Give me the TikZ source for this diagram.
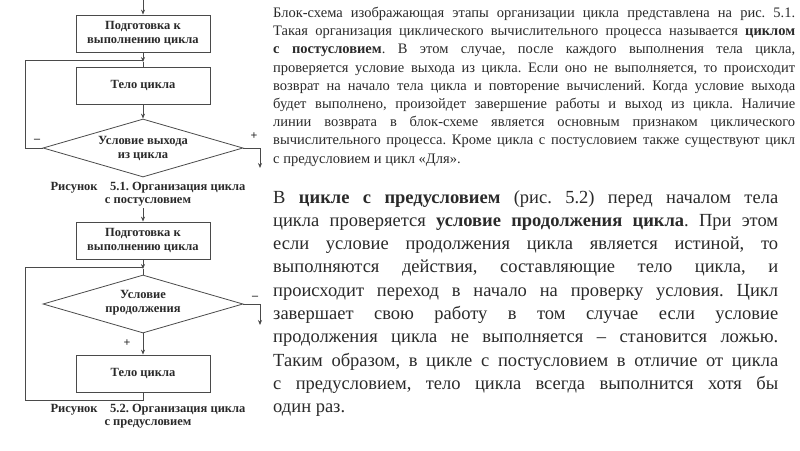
\documentclass[tikz,border=0pt]{standalone}
\usepackage{fontspec}
\setmainfont{Liberation Serif}
\usetikzlibrary{shapes.geometric,arrows.meta}
\definecolor{ln}{HTML}{4A4A4A}
\definecolor{tx}{HTML}{2A2A2A}
\frenchspacing
\begin{document}
\begin{tikzpicture}[x=1pt,y=-1pt,
  flow/.style={draw=ln,line width=0.8pt,-{Stealth[length=5pt,width=4pt]}},
  plain/.style={draw=ln,line width=0.8pt},
  blk/.style={draw=ln,line width=0.8pt,rectangle,minimum width=134pt,minimum height=37pt,inner sep=0pt,align=center,font=\fontsize{12.5}{13.5}\selectfont\bfseries,text=tx},
  dia/.style={draw=ln,line width=0.8pt,diamond,minimum width=200pt,minimum height=58pt,inner sep=0pt},
  dtext/.style={align=center,font=\fontsize{12.5}{14}\selectfont\bfseries,text=tx,inner sep=0pt},
  sgn/.style={font=\fontsize{12}{13}\selectfont\bfseries,text=tx,inner sep=0pt},
  figcap/.style={align=center,font=\fontsize{12.5}{12.5}\selectfont\bfseries,text=tx,inner sep=0pt},
  ptop/.style={anchor=north west,inner sep=0pt,text width=522pt,align=justify,font=\fontsize{14.5}{18.2}\selectfont\frenchspacing,text=tx},
  pbot/.style={anchor=north west,inner sep=0pt,text width=505pt,align=justify,font=\fontsize{18.5}{23.3}\selectfont\frenchspacing,text=tx}
]
\useasboundingbox[fill=white] (0,0) rectangle (800,450);

% ---- figure 5.1 ----
\coordinate (s1) at (143,0);
\node[blk] (b1) at (143,33.5) {Подготовка к\\выполнению цикла};
\coordinate (j1) at (143,62);
\coordinate (r1) at (143,60);
\node[blk] (b2) at (143,85.5) {Тело цикла};
\node[dia] (d1) at (143,148) {};
\node[dtext] (t1) at (143,148) {Условие выхода\\из цикла};
\coordinate (l1) at (25,148);
\coordinate (e1a) at (260,148);
\coordinate (e1) at (260,168);
\draw[flow] (s1) -- (b1.north);
\draw[flow] (b1.south) -- (j1);
\draw[plain] (j1) -- (b2.north);
\draw[flow] (b2.south) -- (d1.north);
\draw[plain] (d1.west) -- (l1) |- (r1);
\draw[flow] (d1.east) -- (e1a) -- (e1);
\node[sgn] (m1) at (37,141) {–};
\node[sgn] (p1) at (254,136) {+};
\node[figcap] (c1) at (148,194) {Рисунок\quad 5.1. Организация цикла\\с постусловием};

% ---- figure 5.2 ----
\coordinate (s2) at (143,208);
\node[blk] (b3) at (143,240.5) {Подготовка к\\выполнению цикла};
\coordinate (j2) at (143,269);
\coordinate (r2) at (143,267);
\node[dia] (d2) at (143,304) {};
\node[dtext] (t2) at (143,303) {Условие\\продолжения};
\node[blk] (b4) at (143,373.5) {Тело цикла};
\coordinate (e2a) at (260,304);
\coordinate (e2) at (260,325);
\coordinate (q1) at (143,400);
\coordinate (q2) at (25,400);
\draw[flow] (s2) -- (b3.north);
\draw[flow] (b3.south) -- (j2);
\draw[plain] (j2) -- (d2.north);
\draw[flow] (d2.south) -- (b4.north);
\draw[flow] (d2.east) -- (e2a) -- (e2);
\draw[plain] (b4.south) -- (q1) -- (q2) |- (r2);
\node[sgn] (m2) at (255,298) {–};
\node[sgn] (p2) at (127,343) {+};
\node[figcap] (c2) at (148,416) {Рисунок\quad 5.2. Организация цикла\\с предусловием};

% ---- text ----
\node[ptop] (pa) at (273,7) {Блок-схема изображающая этапы организации цикла представлена на рис. 5.1.\linebreak
Такая организация циклического вычислительного процесса называется \textbf{циклом}\linebreak
\textbf{с постусловием}. В этом случае, после каждого выполнения тела цикла,\linebreak
проверяется условие выхода из цикла. Если оно не выполняется, то происходит\linebreak
возврат на начало тела цикла и повторение вычислений. Когда условие выхода\linebreak
будет выполнено, произойдет завершение работы и выход из цикла. Наличие\linebreak
линии возврата в блок-схеме является основным признаком циклического\linebreak
вычислительного процесса. Кроме цикла с постусловием также существуют цикл\linebreak
с предусловием и цикл «Для».};

\node[pbot] (pb) at (273,190) {В \textbf{цикле с предусловием} (рис. 5.2) перед началом тела\linebreak
цикла проверяется \textbf{условие продолжения цикла}. При этом\linebreak
если условие продолжения цикла является истиной, то\linebreak
выполняются действия, составляющие тело цикла, и\linebreak
происходит переход в начало на проверку условия. Цикл\linebreak
завершает свою работу в том случае если условие\linebreak
продолжения цикла не выполняется – становится ложью.\linebreak
Таким образом, в цикле с постусловием в отличие от цикла\linebreak
с предусловием, тело цикла всегда выполнится хотя бы\linebreak
один раз.};
\end{tikzpicture}
\end{document}
